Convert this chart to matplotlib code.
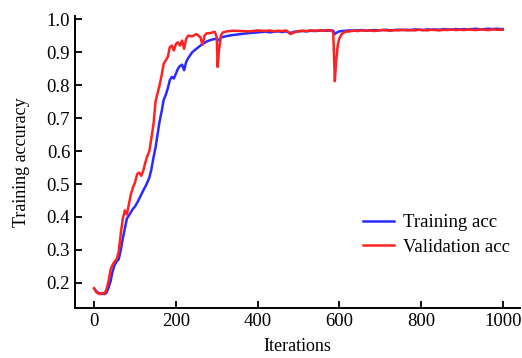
import numpy as np
import matplotlib.pyplot as plt

plt.rcParams['font.family'] = ['Liberation Serif', 'DejaVu Serif']

# iterations for the early (fast changing) part
it_rise = [0, 5, 10, 15, 20, 25, 30, 35, 40, 45, 50, 55, 60, 65, 70, 75, 80, 85, 90, 95,
           100, 105, 110, 115, 120, 125, 130, 135, 140, 145, 150, 155, 160, 165, 170, 175,
           180, 185, 190, 195, 200, 205, 210, 215, 220, 225, 230, 240, 250, 255, 260, 265,
           270, 275, 285, 295, 300, 302, 305, 310, 315, 325, 340, 360, 380, 400]

train_rise = [0.182, 0.175, 0.170, 0.168, 0.167, 0.166, 0.170, 0.185, 0.205, 0.235,
              0.255, 0.265, 0.272, 0.300, 0.335, 0.365, 0.395, 0.405, 0.415, 0.425,
              0.432, 0.443, 0.455, 0.468, 0.480, 0.492, 0.505, 0.520, 0.545, 0.580,
              0.610, 0.650, 0.690, 0.720, 0.755, 0.770, 0.790, 0.815, 0.825, 0.820,
              0.835, 0.850, 0.858, 0.862, 0.845, 0.870, 0.882, 0.900, 0.910, 0.915,
              0.920, 0.925, 0.928, 0.932, 0.937, 0.940, 0.940, 0.937, 0.936, 0.944,
              0.946, 0.949, 0.952, 0.955, 0.958, 0.960]

val_rise = [0.184, 0.172, 0.168, 0.166, 0.170, 0.167, 0.180, 0.205, 0.240, 0.255,
            0.265, 0.272, 0.295, 0.350, 0.395, 0.420, 0.408, 0.440, 0.470, 0.490,
            0.505, 0.530, 0.535, 0.525, 0.540, 0.565, 0.585, 0.600, 0.640, 0.680,
            0.750, 0.775, 0.800, 0.830, 0.865, 0.875, 0.885, 0.915, 0.920, 0.905,
            0.925, 0.930, 0.920, 0.935, 0.910, 0.940, 0.950, 0.948, 0.955, 0.950,
            0.945, 0.922, 0.950, 0.957, 0.958, 0.962, 0.945, 0.855, 0.900, 0.950,
            0.960, 0.963, 0.965, 0.964, 0.963, 0.966]

# iterations for the plateau
it_flat = [410, 420, 430, 440, 450, 460, 470, 480, 490, 500, 510, 520, 530, 540, 550,
           560, 570, 580, 585, 589, 592, 596, 600, 606, 615, 625, 635, 645, 655, 665,
           675, 685, 695, 705, 715, 725, 735, 745, 755, 765, 775, 785, 795, 805, 815,
           825, 835, 845, 855, 865, 875, 885, 895, 905, 915, 925, 935, 945, 955, 965,
           975, 985, 995, 1000]

train_flat = [0.961, 0.962, 0.960, 0.962, 0.963, 0.961, 0.963, 0.958, 0.962, 0.963,
              0.964, 0.963, 0.965, 0.964, 0.965, 0.966, 0.965, 0.966, 0.965, 0.955,
              0.958, 0.961, 0.963, 0.964, 0.965, 0.966, 0.965, 0.966, 0.967, 0.965,
              0.966, 0.967, 0.966, 0.967, 0.968, 0.966, 0.967, 0.968, 0.967, 0.968,
              0.967, 0.969, 0.968, 0.967, 0.969, 0.968, 0.969, 0.968, 0.970, 0.969,
              0.968, 0.970, 0.969, 0.970, 0.969, 0.970, 0.971, 0.969, 0.970, 0.971,
              0.970, 0.971, 0.970, 0.970]

val_flat = [0.965, 0.964, 0.966, 0.963, 0.965, 0.964, 0.966, 0.955, 0.960, 0.964,
            0.965, 0.964, 0.966, 0.965, 0.966, 0.965, 0.967, 0.966, 0.960, 0.812,
            0.870, 0.920, 0.942, 0.955, 0.962, 0.963, 0.965, 0.964, 0.966, 0.965,
            0.966, 0.964, 0.966, 0.967, 0.966, 0.965, 0.967, 0.966, 0.968, 0.966,
            0.967, 0.966, 0.968, 0.967, 0.966, 0.968, 0.967, 0.966, 0.968, 0.967,
            0.969, 0.967, 0.968, 0.967, 0.969, 0.968, 0.967, 0.969, 0.968, 0.967,
            0.969, 0.968, 0.968, 0.968]

iters = it_rise + it_flat
train_acc = train_rise + train_flat
val_acc = val_rise + val_flat

fig = plt.figure(figsize=(5.22, 3.58), dpi=100)
ax = fig.add_axes([0.1437, 0.1397, 0.8523, 0.815])

ax.plot(iters, train_acc, color='#2b2bff', lw=1.8, label='Training acc')
ax.plot(iters, val_acc, color='#ff2222', lw=1.8, label='Validation acc')

ax.set_xlim(-47, 1042)
ax.set_ylim(0.124, 1.009)
ax.set_xticks([0, 200, 400, 600, 800, 1000])
ax.set_yticks([0.2, 0.3, 0.4, 0.5, 0.6, 0.7, 0.8, 0.9, 1.0])
ax.yaxis.set_major_formatter(plt.FormatStrFormatter('%.1f'))

for s in ['top', 'right']:
    ax.spines[s].set_visible(False)
for s in ['left', 'bottom']:
    ax.spines[s].set_linewidth(1.4)
ax.tick_params(direction='in', length=5, width=1.3, labelsize=13.5)

ax.set_xlabel('Iterations', fontsize=13, labelpad=6)
ax.set_ylabel('Training accuracy', fontsize=13, labelpad=12)

ax.legend(loc='upper left', bbox_to_anchor=(0.61, 0.38), frameon=False,
          fontsize=13.5, handlelength=1.65, handletextpad=0.45, labelspacing=0.4)

fig.savefig('out.png', dpi=100)
